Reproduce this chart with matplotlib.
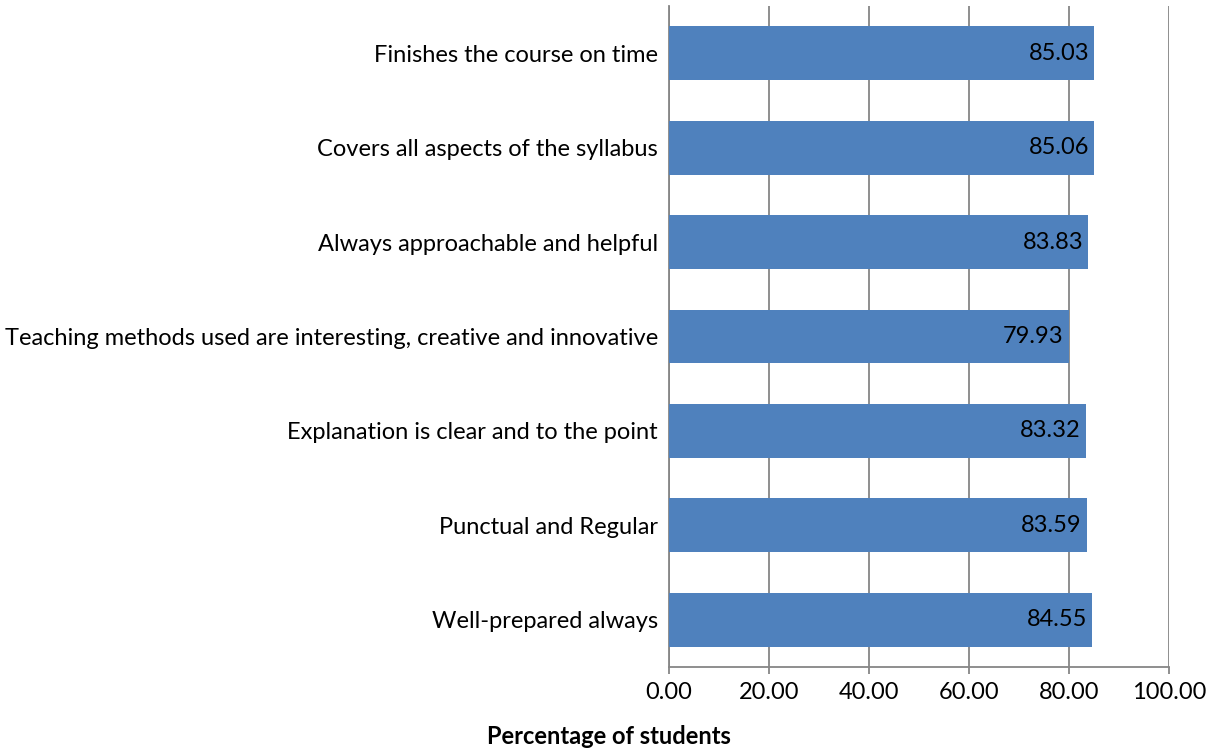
import matplotlib.pyplot as plt
import numpy as np

categories = [
    'Well-prepared always',
    'Punctual and Regular',
    'Explanation is clear and to the point',
    'Teaching methods used are interesting, creative and innovative',
    'Always approachable and helpful',
    'Covers all aspects of the syllabus',
    'Finishes the course on time',
]
values = [84.55, 83.59, 83.32, 79.93, 83.83, 85.06, 85.03]
xticks = [0, 20, 40, 60, 80, 100]

plt.rcParams['font.family'] = ['Lato', 'DejaVu Sans']

fig = plt.figure(figsize=(12.17, 7.52), dpi=100)
ax = fig.add_axes([669 / 1217, 1 - 667 / 752, 500 / 1217, 661 / 752])

y = np.arange(len(categories))
ax.barh(y, values, height=0.57, color='#4F81BD', zorder=3)

for yi, v in zip(y, values):
    ax.text(v - 1.0, yi, f'{v:.2f}', ha='right', va='center', fontsize=17, color='black', zorder=4)

ax.set_xlim(0, 100)
ax.set_ylim(-0.5, len(categories) - 0.5)
ax.set_xticks(xticks)
ax.set_xticklabels([f'{t:.2f}' for t in xticks], fontsize=17)
ax.set_yticks(y)
ax.set_yticklabels(categories, fontsize=17)
ax.tick_params(axis='y', length=0, pad=8)
ax.tick_params(axis='x', length=5, width=1.3, color='#868686', pad=6)

ax.grid(axis='x', color='#868686', linewidth=1.3, zorder=0)
for s in ['top', 'right']:
    ax.spines[s].set_visible(False)
for s in ['left', 'bottom']:
    ax.spines[s].set_color('#868686')
    ax.spines[s].set_linewidth(1.3)

fig.text(609 / 1217, 1 - 737 / 752, 'Percentage of students', ha='center', va='center',
         fontsize=17, fontweight='bold')

fig.savefig('out.png', dpi=100)
